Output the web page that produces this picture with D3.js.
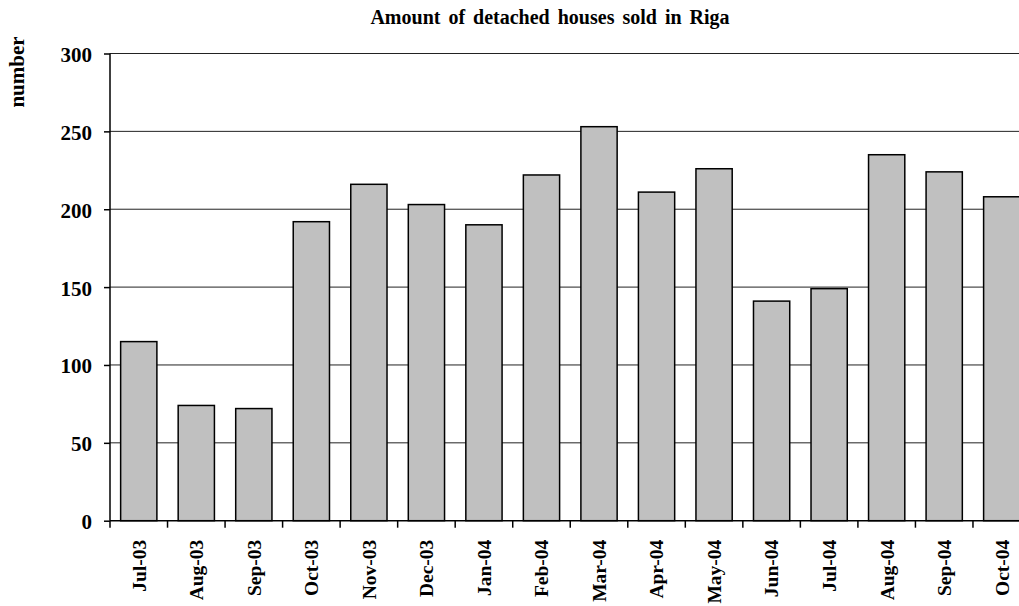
<!DOCTYPE html>
<html>
<head>
<meta charset="utf-8">
<script src="https://cdn.jsdelivr.net/npm/d3@7"></script>
<style>
  body { margin: 0; background: #fff; }
  svg { display: block; font-family: "Liberation Serif", "Times New Roman", serif; font-weight: bold; }
</style>
</head>
<body>
<div id="chart"></div>
<script>
var months = ["Jul-03", "Aug-03", "Sep-03", "Oct-03", "Nov-03", "Dec-03", "Jan-04", "Feb-04",
              "Mar-04", "Apr-04", "May-04", "Jun-04", "Jul-04", "Aug-04", "Sep-04", "Oct-04"];
var sold = [115, 74, 72, 192, 216, 203, 190, 222, 253, 211, 226, 141, 149, 235, 224, 208];
var yTicks = [0, 50, 100, 150, 200, 250, 300];
var title = "Amount of detached houses sold in Riga";
var yTitle = "number";

var W = 1019, H = 606;
var plotLeft = 110, plotTop = 53.5, plotBottom = 520.7, plotRight = 1030.5;

var svg = d3.select("#chart").append("svg")
    .attr("width", W)
    .attr("height", H);

var x = d3.scaleBand().domain(months).range([plotLeft, plotRight]).paddingInner(0.37).paddingOuter(0.185);
var y = d3.scaleLinear().domain([0, 300]).range([plotBottom, plotTop]);

// gridlines
svg.append("g")
    .selectAll("line")
    .data(yTicks.filter(function (d) { return d > 0; }))
    .join("line")
    .attr("x1", plotLeft).attr("x2", plotRight)
    .attr("y1", function (d) { return y(d); })
    .attr("y2", function (d) { return y(d); })
    .attr("stroke", "#222")
    .attr("stroke-width", 1);

// bars
svg.append("g")
    .selectAll("rect")
    .data(sold)
    .join("rect")
    .attr("x", function (d, i) { return x(months[i]); })
    .attr("y", function (d) { return y(d); })
    .attr("width", x.bandwidth())
    .attr("height", function (d) { return y(0) - y(d); })
    .attr("fill", "#c0c0c0")
    .attr("stroke", "#000")
    .attr("stroke-width", 1.5);

// y axis
var yAxis = d3.axisLeft(y).tickValues(yTicks).tickSize(6).tickPadding(12);
var gy = svg.append("g").attr("transform", "translate(" + plotLeft + ",0)").call(yAxis);
gy.select(".domain").attr("stroke", "#000").attr("stroke-width", 1.5).attr("d", "M0," + plotTop + "V" + plotBottom);
gy.selectAll(".tick line").attr("stroke", "#000").attr("stroke-width", 1.5);
gy.selectAll("text")
    .attr("font-family", "Liberation Serif")
    .attr("font-weight", "bold")
    .attr("font-size", "21px")
    .attr("fill", "#000")
    .attr("dy", "0.38em");

// x axis
var step = x.step();
var bounds = d3.range(months.length + 1).map(function (i) { return plotLeft + i * step; });
var gx = svg.append("g");
gx.append("line")
    .attr("x1", plotLeft).attr("x2", plotRight)
    .attr("y1", plotBottom).attr("y2", plotBottom)
    .attr("stroke", "#000").attr("stroke-width", 1.5);
gx.selectAll("line.tk")
    .data(bounds)
    .join("line")
    .attr("class", "tk")
    .attr("x1", function (d) { return d; }).attr("x2", function (d) { return d; })
    .attr("y1", plotBottom).attr("y2", plotBottom + 7)
    .attr("stroke", "#000").attr("stroke-width", 1.5);
gx.selectAll("text")
    .data(months)
    .join("text")
    .attr("transform", function (d) {
        return "translate(" + (x(d) + x.bandwidth() / 2) + "," + (plotBottom + 19) + ") rotate(-90)";
    })
    .attr("text-anchor", "end")
    .attr("dy", "0.35em")
    .attr("font-size", "19.5px")
    .text(function (d) { return d; });

// title
svg.append("text")
    .attr("x", 550)
    .attr("y", 24)
    .attr("text-anchor", "middle")
    .attr("font-size", "20px")
    .attr("word-spacing", "3px")
    .text(title);

// y title
svg.append("text")
    .attr("transform", "translate(24,72) rotate(-90)")
    .attr("text-anchor", "middle")
    .attr("font-size", "21px")
    .text(yTitle);
</script>
</body>
</html>
